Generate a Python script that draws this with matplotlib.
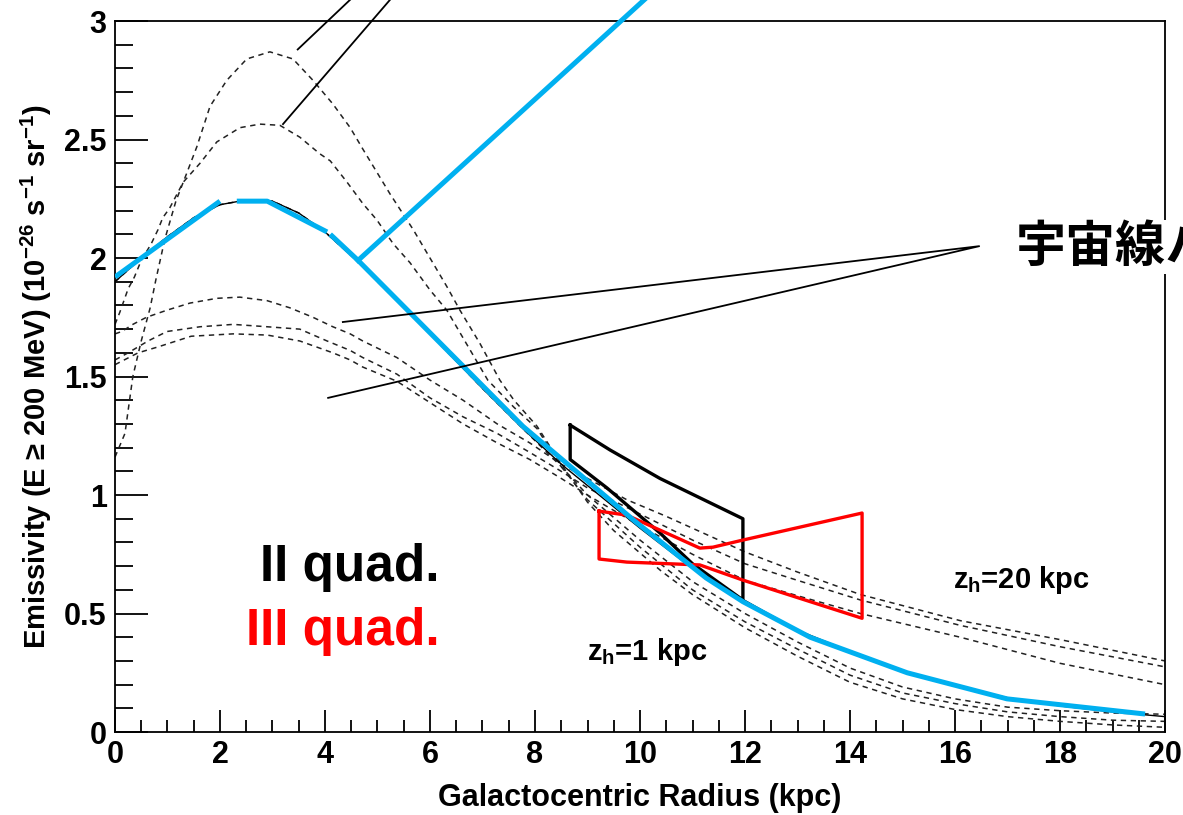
import matplotlib
matplotlib.use('Agg')
import matplotlib.pyplot as plt
from matplotlib.ticker import MultipleLocator

plt.rcParams['font.family'] = ['Liberation Sans', 'Noto Sans CJK JP', 'DejaVu Sans']
plt.rcParams['font.weight'] = 'bold'
plt.rcParams['axes.labelweight'] = 'bold'
plt.rcParams['mathtext.fontset'] = 'custom'
plt.rcParams['mathtext.rm'] = 'Liberation Sans:bold'
plt.rcParams['mathtext.it'] = 'Liberation Sans:bold'
plt.rcParams['mathtext.bf'] = 'Liberation Sans:bold'

# --- model curves (dashed) ---
a_x = [0, 0.19, 0.34, 0.5, 0.67, 0.78, 0.95, 1.16, 1.37, 1.56, 1.81, 2.13, 2.51, 2.95, 3.39, 3.77,
       4.15, 4.48, 4.72, 5.24, 5.68, 6.0, 6.32, 6.57, 6.95, 7.33, 7.6, 8.04, 8.5, 9.0, 9.5, 10.4,
       11, 12, 13, 14, 15, 16, 17, 18, 19, 20]
a_y = [1.16, 1.26, 1.50, 1.65, 1.79, 1.91, 2.08, 2.24, 2.36, 2.47, 2.64, 2.75, 2.84, 2.87, 2.84, 2.75,
       2.65, 2.55, 2.46, 2.27, 2.12, 2.0, 1.88, 1.78, 1.64, 1.485, 1.40, 1.29, 1.13, 0.97, 0.85, 0.68,
       0.58, 0.44, 0.32, 0.21, 0.14, 0.095, 0.065, 0.045, 0.03, 0.02]

b_x = [0, 0.09, 0.25, 0.37, 0.5, 0.69, 0.82, 0.91, 1.04, 1.3, 1.62, 1.94, 2.38, 2.76, 3.14, 3.52,
       3.90, 4.1, 4.42, 4.72, 4.99, 5.30, 5.62, 6.0, 6.32, 7.1, 7.6, 8.04, 8.5, 9, 10, 11, 12, 13,
       14, 15, 16, 17, 18, 19, 20]
b_y = [1.72, 1.77, 1.87, 1.92, 1.99, 2.06, 2.12, 2.17, 2.21, 2.32, 2.40, 2.49, 2.55, 2.565, 2.56, 2.51,
       2.44, 2.41, 2.32, 2.23, 2.16, 2.06, 1.98, 1.865, 1.78, 1.485, 1.37, 1.28, 1.12, 0.98, 0.78, 0.60,
       0.465, 0.35, 0.24, 0.165, 0.12, 0.085, 0.065, 0.05, 0.045]

f_x = [0, 0.5, 1, 1.5, 2, 2.5, 3, 3.5, 4, 4.6, 5, 6, 7, 7.77, 8.5, 9, 10, 11, 12, 13, 14, 15, 16,
       17, 18, 19, 20]
f_y = [1.90, 2.0, 2.09, 2.17, 2.225, 2.245, 2.24, 2.19, 2.11, 1.99, 1.90, 1.68, 1.45, 1.28, 1.12,
       1.0, 0.81, 0.635, 0.50, 0.38, 0.27, 0.19, 0.14, 0.105, 0.09, 0.08, 0.075]

c_x = [0, 0.13, 0.34, 0.6, 0.99, 1.43, 1.94, 2.38, 2.9, 3.33, 3.77, 4.15, 4.48, 4.72, 5.37, 6.0,
       6.63, 7.28, 7.9, 8.5, 9.0, 9.75, 10.5, 11.2, 12, 13, 14.2, 16.1, 18, 20]
c_y = [1.68, 1.69, 1.72, 1.75, 1.78, 1.81, 1.83, 1.835, 1.82, 1.79, 1.75, 1.71, 1.68, 1.65, 1.58, 1.485,
       1.40, 1.30, 1.22, 1.13, 1.07, 0.98, 0.91, 0.84, 0.76, 0.675, 0.58, 0.47, 0.39, 0.30]

d_x = [0, 0.25, 0.63, 0.99, 1.62, 2.25, 2.9, 3.52, 4.04, 4.48, 4.72, 5.37, 6.0, 6.63, 7.28, 7.9,
       8.5, 9, 10, 11, 12, 13, 14.2, 16.1, 18, 20]
d_y = [1.57, 1.60, 1.65, 1.69, 1.71, 1.72, 1.71, 1.70, 1.65, 1.61, 1.58, 1.51, 1.41, 1.33, 1.26, 1.18,
       1.10, 1.03, 0.92, 0.81, 0.71, 0.64, 0.557, 0.45, 0.36, 0.275]

e_x = [0, 0.44, 0.82, 1.45, 2.25, 2.9, 3.52, 4.15, 4.48, 4.72, 5.37, 6.0, 6.63, 7.28, 7.9, 8.5, 9,
       10, 11, 12, 13, 14.2, 16.1, 18, 20]
e_y = [1.55, 1.60, 1.625, 1.67, 1.68, 1.675, 1.65, 1.60, 1.57, 1.54, 1.48, 1.39, 1.30, 1.22, 1.15,
       1.07, 1.0, 0.87, 0.75, 0.64, 0.575, 0.50, 0.40, 0.29, 0.20]

# --- solid model curve under the hand-drawn blue trace ---
model_x = [0, 0.5, 1, 1.5, 2, 2.5, 3, 3.5, 4, 4.6, 5, 6, 7, 7.77, 8.5, 9, 10, 11, 12, 13, 14, 15,
           16, 17, 18, 19, 20]
model_y = [1.90, 2.0, 2.09, 2.17, 2.225, 2.245, 2.24, 2.19, 2.11, 1.99, 1.90, 1.68, 1.45, 1.28, 1.13,
           1.04, 0.86, 0.69, 0.555, 0.43, 0.34, 0.26, 0.195, 0.145, 0.11, 0.085, 0.065]

# --- blue hand-drawn trace, three pieces ---
blue1_x = [0, 2]
blue1_y = [1.92, 2.24]
blue2_x = [2.32, 2.9, 4.04]
blue2_y = [2.24, 2.24, 2.11]
blue3_x = [4.1, 4.63, 7.77, 9.05, 9.9, 11.26, 11.96, 13.24, 15.09, 16.99, 19.62]
blue3_y = [2.10, 1.99, 1.29, 1.05, 0.89, 0.65, 0.55, 0.40, 0.25, 0.14, 0.076]
blue_ptr_x = [4.63, 10.38]
blue_ptr_y = [1.99, 3.15]

# --- II / III quadrant measurements ---
box2_x = [8.67, 9.43, 10.38, 11.96, 11.96, 11.0, 10.38, 9.37, 8.67, 8.67]
box2_y = [1.295, 1.19, 1.07, 0.90, 0.557, 0.71, 0.84, 1.03, 1.15, 1.295]
box3_x = [9.22, 9.75, 11.14, 11.39, 11.96, 14.23, 14.23, 11.96, 11.14, 9.75, 9.22, 9.22]
box3_y = [0.932, 0.915, 0.776, 0.78, 0.81, 0.924, 0.48, 0.641, 0.705, 0.717, 0.73, 0.932]

# --- pointer lines ---
ptr1_x = [3.48, 4.48]
ptr1_y = [2.88, 3.09]
ptr2_x = [3.2, 5.24]
ptr2_y = [2.565, 3.09]
halo_ptr_x = [4.34, 16.46, 4.06]
halo_ptr_y = [1.73, 2.05, 1.41]

x_ticks = [0, 2, 4, 6, 8, 10, 12, 14, 16, 18, 20]
y_ticks = [0, 0.5, 1, 1.5, 2, 2.5, 3]
y_tick_labels = ['0', '0.5', '1', '1.5', '2', '2.5', '3']

fig = plt.figure(figsize=(11.83, 8.15), dpi=100)
ax = fig.add_axes([0.0972, 0.1018, 0.8876, 0.8724])

dash = (0, (3.5, 3))
for xs, ys in [(a_x, a_y), (b_x, b_y), (f_x, f_y), (c_x, c_y), (d_x, d_y), (e_x, e_y)]:
    ax.plot(xs, ys, ls=dash, lw=1.1, color='#222222', zorder=2)
ax.plot(model_x, model_y, color='black', lw=1.0, zorder=3)

ax.plot(box2_x, box2_y, color='black', lw=2.4, zorder=4)
ax.plot(box3_x, box3_y, color='#ff0000', lw=2.4, zorder=4)

blue = '#00b0f0'
for xs, ys in [(blue1_x, blue1_y), (blue2_x, blue2_y), (blue3_x, blue3_y)]:
    ax.plot(xs, ys, color=blue, lw=3.6, zorder=5, solid_capstyle='butt')
ax.plot(blue_ptr_x, blue_ptr_y, color=blue, lw=3.6, zorder=5, clip_on=False)

ax.plot(ptr1_x, ptr1_y, color='black', lw=1.3, clip_on=False, zorder=6)
ax.plot(ptr2_x, ptr2_y, color='black', lw=1.3, clip_on=False, zorder=6)
ax.plot(halo_ptr_x, halo_ptr_y, color='black', lw=1.3, clip_on=False, zorder=6)

ax.text(6.19, 0.637, 'II quad.', ha='right', va='baseline', fontsize=37, color='black')
ax.text(6.19, 0.367, 'III quad.', ha='right', va='baseline', fontsize=37, color='#ff0000')
ax.text(8.99, 0.304, r'$z_h$=1 kpc', fontsize=21, va='baseline')
ax.text(15.96, 0.608, r'$z_h$=20 kpc', fontsize=21, va='baseline')

# the label runs off the right edge in the original slide
fig.text(1016 / 1183, 1 - 247 / 815, '宇宙線ハロー', fontsize=36, va='center', ha='left',
         family=['Noto Sans CJK JP'], weight='bold',
         bbox=dict(facecolor='white', edgecolor='none', pad=1))

ax.set_xlim(0, 20)
ax.set_ylim(0, 3)
ax.set_xticks(x_ticks)
ax.set_xticklabels([str(t) for t in x_ticks])
ax.set_yticks(y_ticks)
ax.set_yticklabels(y_tick_labels)
ax.xaxis.set_minor_locator(MultipleLocator(0.5))
ax.yaxis.set_minor_locator(MultipleLocator(0.1))
ax.tick_params(which='both', direction='in', top=False, right=False, width=1.3)
ax.tick_params(axis='y', which='major', length=23.8, pad=6, labelsize=22)
ax.tick_params(axis='y', which='minor', length=13)
ax.tick_params(axis='x', which='major', length=15.8, pad=6, labelsize=22)
ax.tick_params(axis='x', which='minor', length=8.6)
for s in ax.spines.values():
    s.set_linewidth(1.3)

ax.set_xlabel('Galactocentric Radius (kpc)', fontsize=22, fontweight='bold')
ax.set_ylabel('Emissivity (E ≥ 200 MeV) (10$^{-26}$ s$^{-1}$ sr$^{-1}$)', fontsize=21,
              fontweight='bold')
ax.xaxis.set_label_coords(0.5, -0.072)
ax.yaxis.set_label_coords(-0.058, 0.5)

fig.savefig('out.png', dpi=100)
